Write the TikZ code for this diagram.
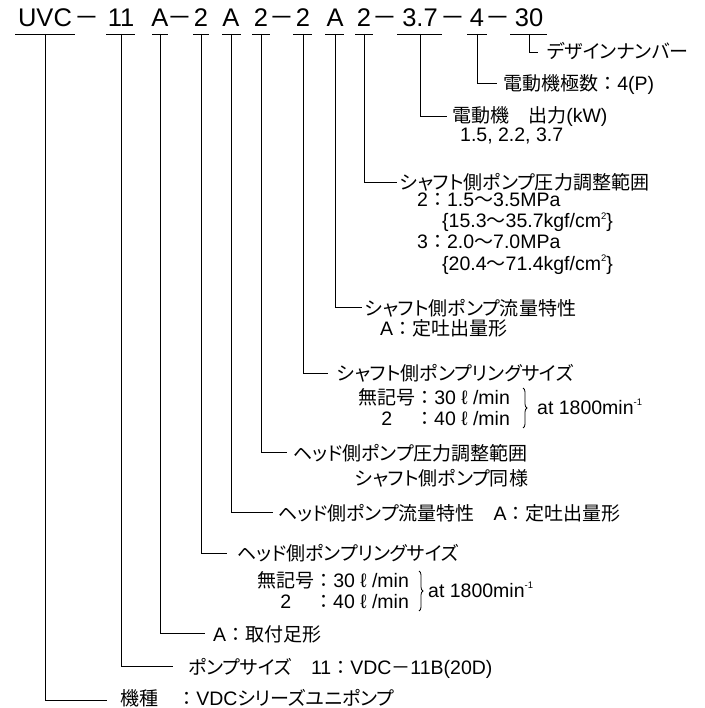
\documentclass[tikz,border=0pt]{standalone}
\usepackage{fontspec}
\setmainfont{Liberation Sans}
\newfontfamily\jp[Scale=0.975,RawFeature=+palt]{Noto Sans CJK JP}
\newfontfamily\jpf[Scale=0.975]{Noto Sans CJK JP}
\newcommand\J[1]{{\jp #1}}
\newcommand\CO{{\jpf ：}}
\newcommand\WV{{\jpf 〜}}
\newcommand\DS{{\jpf －}}
\newcommand\SU[1]{\raisebox{0.42em}{\fontsize{9.5}{9.5}\selectfont #1}}
\usetikzlibrary{decorations.pathreplacing}
\tikzset{
  ln/.style={line width=0.8pt, black},
  lbl/.style={anchor=base west, inner sep=0pt, font=\fontsize{19.5}{21}\selectfont},
  hdr/.style={anchor=base, inner sep=0pt, font=\fontsize{25.5}{26}\selectfont},
  brc/.style={line width=0.8pt, decorate, decoration={brace, amplitude=4pt}},
}
\begin{document}
\begin{tikzpicture}[x=1pt, y=-1pt]
\useasboundingbox (0,0) rectangle (704,708);
% header
\node[hdr] (hUVC) at (45,27) {UVC};
\node[hdr] (d1) at (87,27) {\DS};
\node[hdr] (h11) at (121,27) {11};
\node[hdr] (hA1) at (160,27) {A};
\node[hdr] (d2) at (180,27) {\DS};
\node[hdr] (h2a) at (201,27) {2};
\node[hdr] (hA2) at (231,27) {A};
\node[hdr] (h2b) at (261,27) {2};
\node[hdr] (d3) at (282,27) {\DS};
\node[hdr] (h2c) at (303,27) {2};
\node[hdr] (hA3) at (335,27) {A};
\node[hdr] (h2d) at (364,27) {2};
\node[hdr] (d4) at (385,27) {\DS};
\node[hdr] (h37) at (420,27) {3.7};
\node[hdr] (d5) at (453,27) {\DS};
\node[hdr] (h4) at (477,27) {4};
\node[hdr] (d6) at (498,27) {\DS};
\node[hdr] (h30) at (529,27) {30};
% underlines
\draw[ln] (15,34) -- (75,34);
\draw[ln] (106,34) -- (135,34);
\draw[ln] (152,34) -- (168,34);
\draw[ln] (193,34) -- (209,34);
\draw[ln] (222,34) -- (241,34);
\draw[ln] (252,34) -- (270,34);
\draw[ln] (293,34) -- (312,34);
\draw[ln] (325,34) -- (344,34);
\draw[ln] (355,34) -- (373,34);
\draw[ln] (397,34) -- (442,34);
\draw[ln] (467,34) -- (487,34);
\draw[ln] (510,34) -- (547,34);
% underline anchor coordinates
\coordinate (uUVC) at (45,34);
\coordinate (u11) at (121,34);
\coordinate (uA1) at (160,34);
\coordinate (u2a) at (201,34);
\coordinate (uA2) at (231,34);
\coordinate (u2b) at (261,34);
\coordinate (u2c) at (303,34);
\coordinate (uA3) at (335,34);
\coordinate (u2d) at (364,34);
\coordinate (u37) at (420,34);
\coordinate (u4) at (477,34);
\coordinate (u30) at (529,34);
% branch ends
\coordinate (e30) at (538,52);
\coordinate (e4) at (497,83);
\coordinate (e37) at (447,116);
\coordinate (e2d) at (397,182);
\coordinate (eA3) at (362,307);
\coordinate (e2c) at (328,373);
\coordinate (e2b) at (287,452);
\coordinate (eA2) at (273,512);
\coordinate (e2a) at (227,553);
\coordinate (eA1) at (205,633);
\coordinate (e11) at (173,666);
\coordinate (eUVC) at (107,700);
\foreach \n in {30,4,37,2d,A3,2c,2b,A2,2a,A1,11,UVC}
  \draw[ln] (u\n) |- (e\n);
% labels
\node[lbl] (t30) at (547,59) {\J{デザインナンバー}};
\node[lbl] (t4) at (503,91) {\J{電動機極数}\CO 4(P)};
\node[lbl] (t37) at (452,123) {\J{電動機　出力}(kW)};
\node[lbl] (t37b) at (460,142) {1.5, 2.2, 3.7};
\node[lbl] (t2d) at (400,190) {\J{シャフト側ポンプ圧力調整範囲}};
\node[lbl] (t2d1) at (417,207) {2\CO 1.5\WV 3.5MPa};
\node[lbl] (t2d2) at (442,228) {\{15.3\WV 35.7kgf/cm\SU{2}\}};
\node[lbl] (t2d3) at (417,249) {3\CO 2.0\WV 7.0MPa};
\node[lbl] (t2d4) at (442,270) {\{20.4\WV 71.4kgf/cm\SU{2}\}};
\node[lbl] (tA3) at (365,315) {\J{シャフト側ポンプ流量特性}};
\node[lbl] (tA3b) at (380,335) {A\CO\J{定吐出量形}};
\node[lbl] (t2c) at (337,380) {\J{シャフト側ポンプリングサイズ}};
\node[lbl] (t2c1) at (358,404) {\J{無記号}\CO 30 ℓ /min};
\node[lbl] (t2c2) at (358,425) {\makebox[57pt]{2}\CO 40 ℓ /min};
\draw[brc] (523,388) -- (523,428);
\node[lbl] (t2c3) at (537,414) {at 1800min\SU{-1}};
\node[lbl] (t2b) at (293,460) {\J{ヘッド側ポンプ圧力調整範囲}};
\node[lbl] (t2b1) at (355,485) {\J{シャフト側ポンプ同様}};
\node[lbl] (tA2) at (278,520) {\J{ヘッド側ポンプ流量特性　}A\CO\J{定吐出量形}};
\node[lbl] (t2a) at (237,560) {\J{ヘッド側ポンプリングサイズ}};
\node[lbl] (t2a1) at (257,587) {\J{無記号}\CO 30 ℓ /min};
\node[lbl] (t2a2) at (257,608) {\makebox[57pt]{2}\CO 40 ℓ /min};
\draw[brc] (419,571) -- (419,611);
\node[lbl] (t2a3) at (428,597) {at 1800min\SU{-1}};
\node[lbl] (tA1) at (213,641) {A\CO\J{取付足形}};
\node[lbl] (t11) at (188,674) {\J{ポンプサイズ　}11\CO VDC\DS 11B(20D)};
\node[lbl] (tUVC) at (120,705) {\J{機種　}\CO VDC\J{シリーズユニポンプ}};
\end{tikzpicture}
\end{document}
